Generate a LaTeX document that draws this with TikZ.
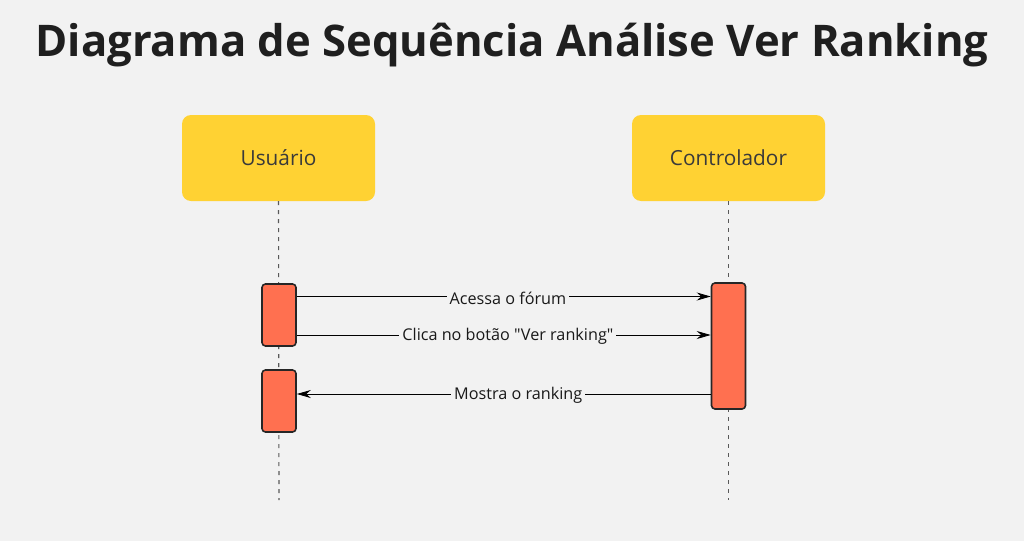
\documentclass[tikz,border=0pt]{standalone}
\usepackage{fontspec}
\setmainfont[Ligatures=TeXOff]{Open Sans}
\usetikzlibrary{arrows.meta}
\definecolor{bgc}{HTML}{F2F2F2}
\definecolor{actorc}{HTML}{FFD233}
\definecolor{actc}{HTML}{FF7050}
\definecolor{txtc}{HTML}{3A3A3A}
\begin{document}
\begin{tikzpicture}[x=1pt,y=-1pt,
  actor/.style={fill=actorc,rounded corners=9pt,minimum width=193pt,minimum height=86pt,inner sep=0pt,text=txtc,font=\fontsize{20.8}{24}\selectfont},
  actbox/.style={fill=actc,draw=black!85,line width=1.6pt,rounded corners=3.5pt,minimum width=34pt,inner sep=0pt},
  lifeline/.style={draw=black!65,line width=1.1pt,dash pattern=on 4pt off 5pt},
  msg/.style={draw=black,line width=0.8pt,-{Stealth[length=14pt,width=8pt]}},
  lbl/.style={fill=bgc,inner sep=3pt,yshift=-1.5pt,font=\fontsize{16.2}{19}\selectfont,text=black!90}]
\fill[bgc] (0,0) rectangle (1024,541);
\useasboundingbox (0,0) rectangle (1024,541);
\node[font=\bfseries\fontsize{43.6}{52}\selectfont,text=black!88] (title) at (512,45) {Diagrama de Sequência Análise Ver Ranking};
\node[actor] (u) at (278.5,158) {Usuário};
\node[actor] (c) at (728.5,158) {Controlador};
\coordinate (uend) at (279,500);
\coordinate (cend) at (728.5,500);
\draw[lifeline] (u.south) -- (uend);
\draw[lifeline] (c.south) -- (cend);
\node[actbox,minimum height=62pt] (a1) at (279,315) {};
\node[actbox,minimum height=62pt] (a2) at (279,401) {};
\node[actbox,minimum height=126pt] (b1) at (728.5,346) {};
\draw[msg] (a1.east |- 0,296.5) -- node[lbl,pos=0.51] {Acessa o fórum} (b1.west |- 0,296.5);
\draw[msg] (a1.east |- 0,335) -- node[lbl,pos=0.51] {Clica no botão "Ver ranking"} (b1.west |- 0,335);
\draw[msg] (b1.west |- 0,394) -- node[lbl,pos=0.465] {Mostra o ranking} (a2.east |- 0,394);
\end{tikzpicture}
\end{document}
